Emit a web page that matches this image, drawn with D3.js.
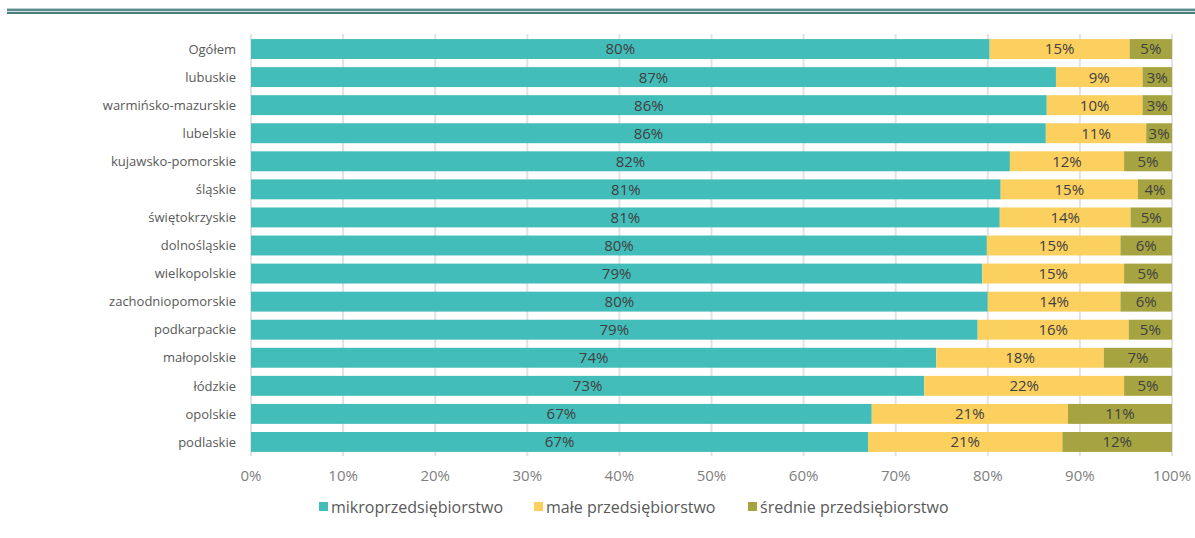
<!DOCTYPE html>
<html>
<head>
<meta charset="utf-8">
<script src="https://cdn.jsdelivr.net/npm/d3@7"></script>
<style>
  body { margin: 0; background: #fff; }
  svg { display: block; font-family: "Open Sans", sans-serif; }
</style>
</head>
<body>
<svg width="1195" height="538"></svg>
<script>
// regions, top to bottom
const categories = ['Ogółem', 'lubuskie', 'warmińsko-mazurskie', 'lubelskie', 'kujawsko-pomorskie',
  'śląskie', 'świętokrzyskie', 'dolnośląskie', 'wielkopolskie', 'zachodniopomorskie',
  'podkarpackie', 'małopolskie', 'łódzkie', 'opolskie', 'podlaskie'];

// share of firms (%) per size class
const mikro = [80.2, 87.4, 86.4, 86.3, 82.4, 81.4, 81.3, 79.9, 79.4, 80.0, 78.9, 74.4, 73.1, 67.4, 67.0];
const male = [15.2, 9.4, 10.4, 10.9, 12.4, 14.9, 14.2, 14.5, 15.4, 14.4, 16.4, 18.2, 21.7, 21.3, 21.1];
const srednie = [4.6, 3.2, 3.2, 2.8, 5.2, 3.7, 4.5, 5.6, 5.2, 5.6, 4.7, 7.4, 5.2, 11.3, 11.9];

const seriesNames = ['mikroprzedsiębiorstwo', 'małe przedsiębiorstwo', 'średnie przedsiębiorstwo'];
const seriesColors = ['#43bdba', '#fcd05f', '#a6a440'];
const xTicks = [0, 10, 20, 30, 40, 50, 60, 70, 80, 90, 100];

const rows = categories.map((c, i) => ({ name: c, s0: mikro[i], s1: male[i], s2: srednie[i] }));
const keys = ['s0', 's1', 's2'];
const stacked = d3.stack().keys(keys)(rows);

const svg = d3.select('svg');

// double rule at the top
svg.append('rect').attr('x', 7).attr('y', 8).attr('width', 1188).attr('height', 1).attr('fill', '#b7cfcf');
svg.append('rect').attr('x', 7).attr('y', 9).attr('width', 1188).attr('height', 2).attr('fill', '#5b8b8b');
svg.append('rect').attr('x', 7).attr('y', 11).attr('width', 1188).attr('height', 1).attr('fill', '#d3e2e2');
svg.append('rect').attr('x', 7).attr('y', 12).attr('width', 1188).attr('height', 2).attr('fill', '#4e7d7e');

const x = d3.scaleLinear().domain([0, 100]).range([251, 1172]);
const y = d3.scaleBand().domain(categories).range([35, 456]).paddingInner(0.29).paddingOuter(0.145);

// gridlines
svg.append('g')
  .selectAll('line')
  .data(xTicks)
  .enter()
  .append('line')
  .attr('x1', d => x(d))
  .attr('x2', d => x(d))
  .attr('y1', 34)
  .attr('y2', 456)
  .attr('stroke', '#e2e2e2')
  .attr('stroke-width', 2);

// bars
const layer = svg.append('g')
  .selectAll('g')
  .data(stacked)
  .enter()
  .append('g')
  .attr('fill', (d, i) => seriesColors[i]);

layer.selectAll('rect')
  .data(d => d)
  .enter()
  .append('rect')
  .attr('x', d => x(d[0]))
  .attr('y', d => y(d.data.name))
  .attr('width', d => x(d[1]) - x(d[0]))
  .attr('height', y.bandwidth());

// value labels
layer.selectAll('text')
  .data(d => d)
  .enter()
  .append('text')
  .attr('x', d => (x(d[0]) + x(d[1])) / 2)
  .attr('y', d => y(d.data.name) + y.bandwidth() / 2)
  .attr('dy', '0.36em')
  .attr('text-anchor', 'middle')
  .attr('fill', '#404040')
  .attr('font-size', 15)
  .text(d => Math.round(d[1] - d[0]) + '%');

// category labels
svg.append('g')
  .selectAll('text')
  .data(categories)
  .enter()
  .append('text')
  .attr('x', 236)
  .attr('y', d => y(d) + y.bandwidth() / 2)
  .attr('dy', '0.36em')
  .attr('text-anchor', 'end')
  .attr('fill', '#595959')
  .attr('font-size', 13)
  .text(d => d);

// x tick labels
svg.append('g')
  .selectAll('text')
  .data(xTicks)
  .enter()
  .append('text')
  .attr('x', d => x(d))
  .attr('y', 476)
  .attr('dy', '0.36em')
  .attr('text-anchor', 'middle')
  .attr('fill', '#808080')
  .attr('font-size', 15)
  .text(d => d + '%');

// legend
const legendX = [319, 534, 748];
const legend = svg.append('g')
  .selectAll('g')
  .data(seriesNames)
  .enter()
  .append('g')
  .attr('transform', (d, i) => `translate(${legendX[i]},507)`);

legend.append('rect')
  .attr('x', 0)
  .attr('y', -5)
  .attr('width', 9)
  .attr('height', 9)
  .attr('fill', (d, i) => seriesColors[i]);

legend.append('text')
  .attr('x', 12)
  .attr('y', 0)
  .attr('dy', '0.36em')
  .attr('fill', '#595959')
  .attr('font-size', 16)
  .text(d => d);
</script>
</body>
</html>
